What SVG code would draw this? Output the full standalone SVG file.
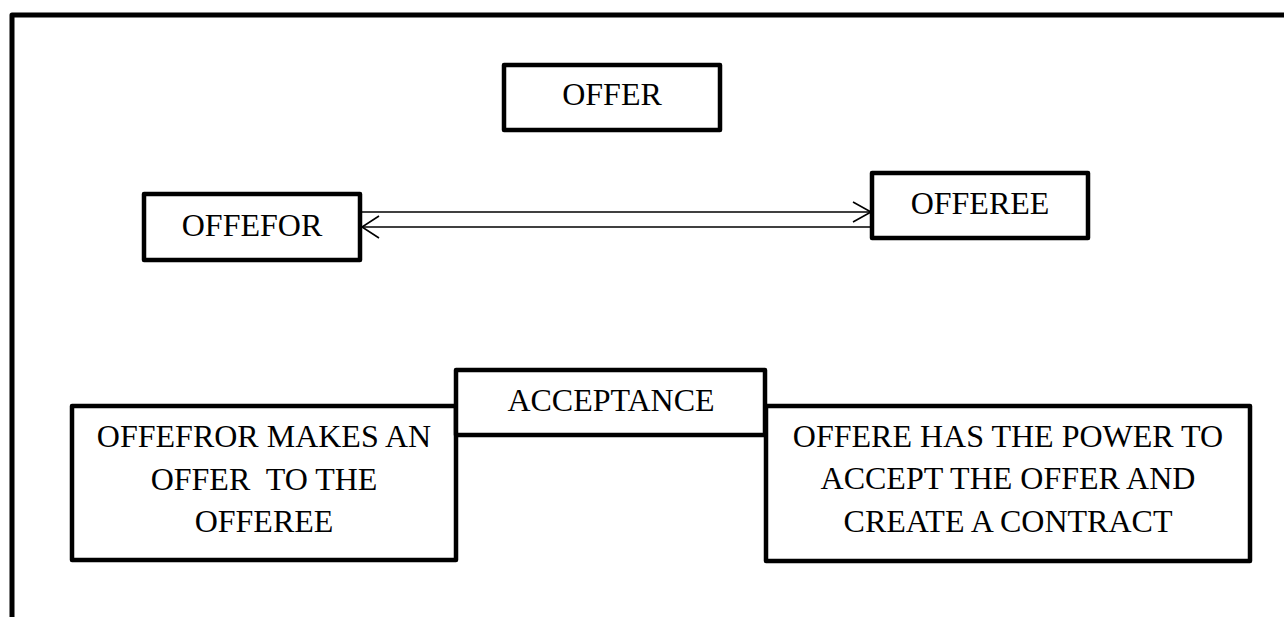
<svg xmlns="http://www.w3.org/2000/svg" width="1284" height="617" viewBox="0 0 1284 617">
<style>
.box{fill:#fff;stroke:#000;stroke-width:4.5;stroke-linejoin:round}
.t{font-family:'Liberation Serif','Times New Roman',serif;font-size:32px;fill:#000;text-anchor:middle;white-space:pre}
.ln{fill:none;stroke:#000;stroke-width:1.6}
</style>
<rect x="0" y="0" width="1284" height="617" fill="#fff"/>
<rect x="12" y="15" width="1300" height="640" fill="none" stroke="#000" stroke-width="5" stroke-linejoin="round"/>
<g id="connectors">
<line class="ln" x1="362" y1="212" x2="871" y2="212"/>
<polyline class="ln" points="853,202 871,212 853,222"/>
<line class="ln" x1="362" y1="227" x2="872" y2="227"/>
<polyline class="ln" points="379,216 362,227 379,238"/>
</g>
<g id="offer">
<rect class="box" x="504" y="65" width="216" height="65"/>
<text class="t" x="612" y="105">OFFER</text>
</g>
<g id="offefor">
<rect class="box" x="144" y="194" width="216" height="66"/>
<text class="t" x="252" y="236">OFFEFOR</text>
</g>
<g id="offeree">
<rect class="box" x="872" y="173" width="216" height="65"/>
<text class="t" x="980" y="214">OFFEREE</text>
</g>
<g id="left-desc">
<rect class="box" x="72" y="406" width="384" height="154"/>
<text class="t" x="264" y="447">OFFEFROR MAKES AN</text>
<text class="t" x="264" y="490">OFFER  TO THE</text>
<text class="t" x="264" y="532">OFFEREE</text>
</g>
<g id="acceptance">
<rect class="box" x="456" y="370" width="309" height="65"/>
<text class="t" x="611" y="411">ACCEPTANCE</text>
</g>
<g id="right-desc">
<rect class="box" x="766" y="406" width="484" height="155"/>
<text class="t" x="1008" y="447">OFFERE HAS THE POWER TO</text>
<text class="t" x="1008" y="489">ACCEPT THE OFFER AND</text>
<text class="t" x="1008" y="532">CREATE A CONTRACT</text>
</g>
</svg>
